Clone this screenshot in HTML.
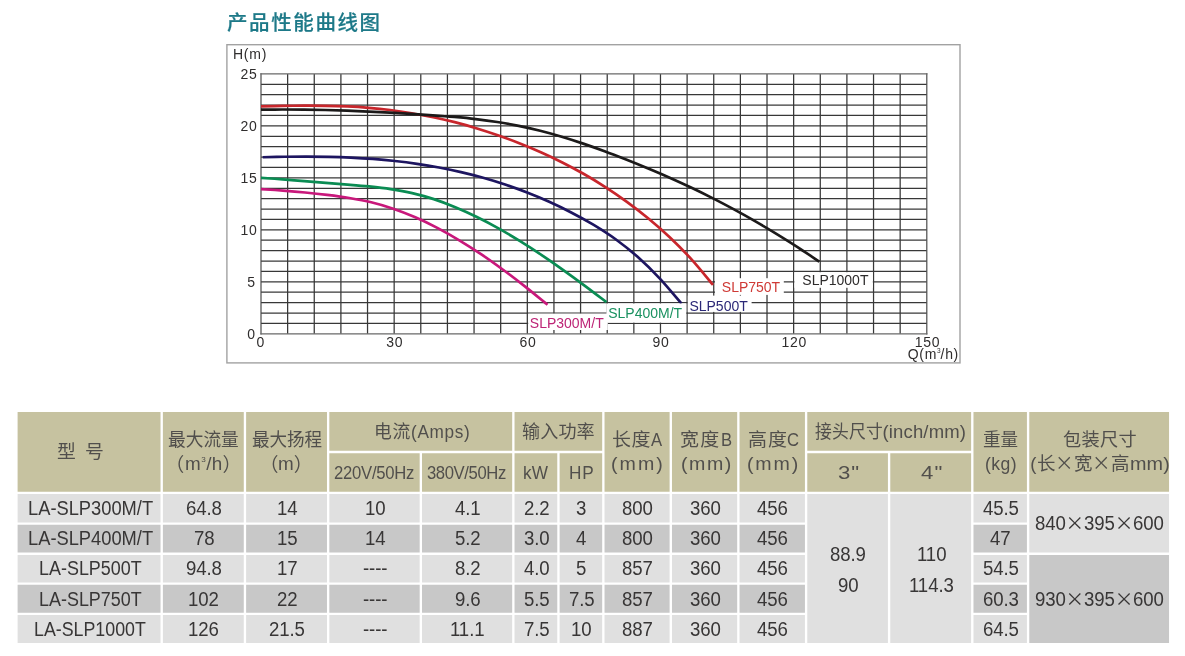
<!DOCTYPE html>
<html lang="zh-CN">
<head>
<meta charset="utf-8">
<title>产品性能曲线图</title>
<style>
html,body{margin:0;padding:0;background:#fff;}
body{width:1185px;height:656px;position:relative;overflow:hidden;font-family:"Liberation Sans","Noto Sans CJK SC",sans-serif;}
.title{position:absolute;left:227px;top:7.5px;margin:0;font-family:"Liberation Sans","Noto Sans CJK SC",sans-serif;font-weight:500;font-size:20.5px;line-height:30px;letter-spacing:1.6px;color:#1d7988;-webkit-text-stroke:0.2px #1d7988;white-space:nowrap;}
.chart{position:absolute;left:0;top:0;}
.tbl{position:absolute;left:0;top:0;width:1185px;height:656px;}
.bg{position:absolute;left:0;top:0;}
.c{position:absolute;}
.t{position:absolute;display:block;height:30px;line-height:30px;white-space:nowrap;transform-origin:0 50%;}
.h{color:#514f4c;}
.a,.b{color:#383636;}
.z{font-size:18.3px;}
.e{font-size:18.5px;}
.k{font-size:19px;font-family:"Noto Sans CJK SC",sans-serif;}
.d{font-size:19.4px;}
.x{font-size:18.6px;font-family:"Noto Sans CJK SC",sans-serif;}
sup{font-size:8px;line-height:0;vertical-align:8px;}
</style>
</head>
<body>
<h2 class="title">产品性能曲线图</h2>
<svg class="chart" width="1185" height="380" viewBox="0 0 1185 380">
<rect x="226.9" y="44.7" width="733.1" height="318.2" fill="#fff" stroke="#a2a2a2" stroke-width="1.4"/>
<defs><filter id="soft" x="-2%" y="-2%" width="104%" height="104%"><feGaussianBlur stdDeviation="0.5"/></filter></defs>
<g filter="url(#soft)">
<path d="M261.0 84.30H926.8M261.0 94.69H926.8M261.0 105.09H926.8M261.0 115.48H926.8M261.0 125.88H926.8M261.0 136.28H926.8M261.0 146.67H926.8M261.0 157.07H926.8M261.0 167.46H926.8M261.0 177.86H926.8M261.0 188.26H926.8M261.0 198.65H926.8M261.0 209.05H926.8M261.0 219.44H926.8M261.0 229.84H926.8M261.0 240.24H926.8M261.0 250.63H926.8M261.0 261.03H926.8M261.0 271.42H926.8M261.0 281.82H926.8M261.0 292.22H926.8M261.0 302.61H926.8M261.0 313.01H926.8M261.0 323.40H926.8M287.63 73.9V333.8M314.26 73.9V333.8M340.90 73.9V333.8M367.53 73.9V333.8M394.16 73.9V333.8M420.79 73.9V333.8M447.42 73.9V333.8M474.06 73.9V333.8M500.69 73.9V333.8M527.32 73.9V333.8M553.95 73.9V333.8M580.58 73.9V333.8M607.22 73.9V333.8M633.85 73.9V333.8M660.48 73.9V333.8M687.11 73.9V333.8M713.74 73.9V333.8M740.38 73.9V333.8M767.01 73.9V333.8M793.64 73.9V333.8M820.27 73.9V333.8M846.90 73.9V333.8M873.54 73.9V333.8M900.17 73.9V333.8" stroke="#383838" stroke-width="1.25" fill="none"/>
<path d="M261.0 73.3V334.4M926.8 73.3V334.4" stroke="#4c4c4c" stroke-width="1.2" fill="none"/>
<path d="M260.4 73.9H927.4M260.4 333.8H927.4" stroke="#6a6a6a" stroke-width="1.3" fill="none"/>
</g>
<g fill="none" stroke-width="2.7">
<path stroke="#c8262c" d="M261.0 106.41C264.6 106.33 275.3 106.06 282.5 105.94C289.7 105.82 296.8 105.70 304.0 105.68C311.2 105.66 318.4 105.68 325.6 105.81C332.8 105.94 339.9 106.13 347.1 106.46C354.3 106.79 361.4 107.22 368.6 107.81C375.8 108.41 382.9 109.13 390.1 110.03C397.3 110.93 404.5 112.01 411.7 113.21C418.9 114.41 426.0 115.73 433.2 117.22C440.4 118.71 447.5 120.32 454.7 122.15C461.9 123.98 469.0 126.01 476.2 128.20C483.4 130.38 490.6 132.75 497.8 135.26C505.0 137.77 512.1 140.41 519.3 143.24C526.5 146.07 533.6 149.05 540.8 152.25C548.0 155.45 555.1 158.81 562.3 162.43C569.5 166.05 576.7 169.87 583.9 173.97C591.1 178.07 598.2 182.40 605.4 187.04C612.6 191.68 619.7 196.56 626.9 201.80C634.1 207.04 641.2 212.51 648.4 218.45C655.6 224.39 662.8 230.61 670.0 237.43C677.2 244.25 684.3 251.46 691.5 259.37C698.7 267.28 709.4 280.64 713.0 284.90"/>
<path stroke="#1c1a1a" d="M261.0 109.70C264.6 109.66 275.3 109.50 282.5 109.48C289.7 109.46 296.9 109.50 304.0 109.58C311.1 109.66 318.2 109.80 325.4 109.98C332.5 110.16 339.7 110.39 346.9 110.65C354.1 110.91 361.2 111.22 368.4 111.55C375.6 111.88 382.8 112.25 389.9 112.64C397.0 113.03 404.1 113.45 411.3 113.89C418.5 114.33 425.6 114.78 432.8 115.28C440.0 115.78 447.1 116.29 454.3 116.92C461.5 117.55 468.7 118.22 475.8 119.06C482.9 119.90 490.0 120.84 497.2 121.97C504.4 123.10 511.5 124.38 518.7 125.85C525.9 127.32 533.0 128.97 540.2 130.78C547.4 132.59 554.5 134.59 561.7 136.73C568.9 138.87 576.1 141.19 583.2 143.62C590.4 146.05 597.5 148.63 604.6 151.29C611.8 153.95 618.9 156.73 626.1 159.57C633.3 162.41 640.4 165.31 647.6 168.30C654.8 171.29 662.0 174.32 669.1 177.49C676.2 180.66 683.4 183.92 690.5 187.31C697.6 190.70 704.8 194.22 712.0 197.85C719.2 201.48 726.3 205.24 733.5 209.12C740.7 213.00 747.9 217.00 755.0 221.12C762.1 225.24 769.2 229.46 776.4 233.82C783.5 238.18 790.7 242.66 797.9 247.30C805.1 251.95 815.8 259.29 819.4 261.69"/>
<path stroke="#1d1560" d="M262.7 157.27C266.4 157.18 277.3 156.87 284.7 156.75C292.1 156.63 299.4 156.56 306.8 156.57C314.2 156.58 321.5 156.66 328.8 156.83C336.1 157.00 343.5 157.24 350.8 157.60C358.1 157.96 365.5 158.40 372.9 158.97C380.2 159.54 387.5 160.22 394.9 161.03C402.2 161.84 409.6 162.77 417.0 163.85C424.4 164.93 431.7 166.15 439.0 167.53C446.3 168.91 453.6 170.44 461.0 172.15C468.4 173.86 475.8 175.72 483.1 177.79C490.5 179.85 497.8 182.09 505.1 184.54C512.4 186.99 519.8 189.63 527.1 192.50C534.5 195.37 541.9 198.45 549.2 201.77C556.6 205.09 563.9 208.63 571.2 212.44C578.6 216.25 585.9 220.22 593.3 224.65C600.6 229.08 608.0 233.69 615.3 239.01C622.6 244.33 629.9 250.07 637.3 256.58C644.6 263.09 652.0 270.27 659.4 278.09C666.8 285.91 677.7 299.28 681.4 303.52"/>
<path stroke="#0a8c53" d="M261.0 177.79C264.6 178.05 275.4 178.80 282.6 179.37C289.8 179.94 297.0 180.62 304.2 181.21C311.4 181.80 318.6 182.37 325.8 182.93C333.0 183.49 340.2 183.96 347.4 184.55C354.6 185.14 361.8 185.70 369.0 186.46C376.2 187.22 383.4 187.99 390.6 189.10C397.8 190.21 405.0 191.44 412.2 193.11C419.4 194.78 426.6 196.78 433.8 199.12C441.0 201.47 448.1 204.20 455.3 207.18C462.5 210.16 469.7 213.47 476.9 217.00C484.1 220.53 491.3 224.36 498.5 228.38C505.7 232.40 512.9 236.69 520.1 241.14C527.3 245.59 534.5 250.27 541.7 255.09C548.9 259.91 556.1 264.92 563.3 270.04C570.5 275.16 577.7 280.44 584.9 285.80C592.1 291.16 602.9 299.47 606.5 302.20"/>
<path stroke="#c8187b" d="M261.0 189.10C264.7 189.34 275.6 190.00 283.0 190.56C290.4 191.12 297.8 191.74 305.1 192.47C312.5 193.20 319.8 194.00 327.1 194.92C334.5 195.84 341.9 196.77 349.2 198.00C356.5 199.23 363.9 200.51 371.2 202.29C378.5 204.07 385.8 206.18 393.2 208.68C400.6 211.18 407.9 214.07 415.3 217.28C422.7 220.49 430.0 224.06 437.3 227.91C444.6 231.76 452.0 235.94 459.3 240.36C466.6 244.78 474.0 249.51 481.4 254.45C488.8 259.39 496.0 264.61 503.4 270.00C510.8 275.39 518.1 281.03 525.5 286.82C532.9 292.61 543.8 301.74 547.5 304.72"/>
</g>
<g fill="#fff">
<rect x="528.2" y="313.6" width="79.6" height="16.4"/>
<rect x="606.4" y="303.5" width="79.8" height="19.1"/>
<rect x="687.8" y="295.6" width="63.8" height="16.3"/>
<rect x="715.0" y="278.2" width="68.8" height="16.7"/>
<rect x="794.4" y="272.2" width="78.4" height="15.6"/>
</g>
<g font-family="'Liberation Sans', Arial, sans-serif" font-size="14">
<text x="529.8" y="327.5" fill="#bd2476">SLP300M/T</text>
<text x="608.2" y="317.7" fill="#1a9160">SLP400M/T</text>
<text x="689.4" y="310.5" fill="#2b2877">SLP500T</text>
<text x="721.8" y="291.6" fill="#cf3a36">SLP750T</text>
<text x="802.3" y="285.3" fill="#2e2c2c">SLP1000T</text>
</g>
<g font-family="'Liberation Sans', Arial, sans-serif" font-size="14" fill="#2f2d2d">
<text x="233" y="59.3" letter-spacing="0.75">H(m)</text>
<text x="257.5" y="78.8" text-anchor="end" letter-spacing="0.7">25</text>
<text x="257.5" y="130.8" text-anchor="end" letter-spacing="0.7">20</text>
<text x="257.5" y="182.8" text-anchor="end" letter-spacing="0.7">15</text>
<text x="257.5" y="234.7" text-anchor="end" letter-spacing="0.7">10</text>
<text x="255.8" y="286.7" text-anchor="end" letter-spacing="0.7">5</text>
<text x="255.8" y="338.7" text-anchor="end" letter-spacing="0.7">0</text>
<text x="260.8" y="347.3" text-anchor="middle" letter-spacing="0.7">0</text>
<text x="394.8" y="347.3" text-anchor="middle" letter-spacing="0.7">30</text>
<text x="527.9" y="347.3" text-anchor="middle" letter-spacing="0.7">60</text>
<text x="661.1" y="347.3" text-anchor="middle" letter-spacing="0.7">90</text>
<text x="794.2" y="347.3" text-anchor="middle" letter-spacing="0.7">120</text>
<text x="927.4" y="347.3" text-anchor="middle" letter-spacing="0.7">150</text>
<text x="907.8" y="359.3" letter-spacing="0.65">Q(m<tspan font-size="6.5" dy="-6.5" letter-spacing="0">3</tspan><tspan dy="6.5">/h)</tspan></text>
</g>
</svg>
<svg class="bg" width="1185" height="656" viewBox="0 0 1185 656">
<path fill="#c6c2a0" d="M17.60 411.90H160.53V491.72H17.60ZM162.88 411.90H243.78V491.72H162.88ZM246.12 411.90H326.98V491.72H246.12ZM329.32 411.90H512.18V450.82H329.32ZM329.32 453.18H419.68V491.72H329.32ZM422.02 453.18H512.18V491.72H422.02ZM514.53 411.90H602.18V450.82H514.53ZM514.53 453.18H557.27V491.72H514.53ZM559.62 453.18H602.18V491.72H559.62ZM604.53 411.90H669.62V491.72H604.53ZM671.98 411.90H737.18V491.72H671.98ZM739.53 411.90H804.93V491.72H739.53ZM807.28 411.90H971.12V450.82H807.28ZM807.28 453.18H887.93V491.72H807.28ZM890.28 453.18H971.12V491.72H890.28ZM973.48 411.90H1026.92V491.72H973.48ZM1029.28 411.90H1169.05V491.72H1029.28Z"/>
<path fill="#e0e0e0" d="M17.60 494.07H160.53V522.38H17.60ZM162.88 494.07H243.78V522.38H162.88ZM246.12 494.07H326.98V522.38H246.12ZM329.32 494.07H419.68V522.38H329.32ZM422.02 494.07H512.18V522.38H422.02ZM514.53 494.07H557.27V522.38H514.53ZM559.62 494.07H602.18V522.38H559.62ZM604.53 494.07H669.62V522.38H604.53ZM671.98 494.07H737.18V522.38H671.98ZM739.53 494.07H804.93V522.38H739.53ZM973.48 494.07H1026.92V522.38H973.48ZM17.60 554.88H160.53V582.43H17.60ZM162.88 554.88H243.78V582.43H162.88ZM246.12 554.88H326.98V582.43H246.12ZM329.32 554.88H419.68V582.43H329.32ZM422.02 554.88H512.18V582.43H422.02ZM514.53 554.88H557.27V582.43H514.53ZM559.62 554.88H602.18V582.43H559.62ZM604.53 554.88H669.62V582.43H604.53ZM671.98 554.88H737.18V582.43H671.98ZM739.53 554.88H804.93V582.43H739.53ZM973.48 554.88H1026.92V582.43H973.48ZM17.60 615.12H160.53V643.00H17.60ZM162.88 615.12H243.78V643.00H162.88ZM246.12 615.12H326.98V643.00H246.12ZM329.32 615.12H419.68V643.00H329.32ZM422.02 615.12H512.18V643.00H422.02ZM514.53 615.12H557.27V643.00H514.53ZM559.62 615.12H602.18V643.00H559.62ZM604.53 615.12H669.62V643.00H604.53ZM671.98 615.12H737.18V643.00H671.98ZM739.53 615.12H804.93V643.00H739.53ZM973.48 615.12H1026.92V643.00H973.48ZM807.28 494.07H887.93V643.00H807.28ZM890.28 494.07H971.12V643.00H890.28ZM1029.28 494.07H1169.05V552.53H1029.28Z"/>
<path fill="#c8c8c8" d="M17.60 524.72H160.53V552.53H17.60ZM162.88 524.72H243.78V552.53H162.88ZM246.12 524.72H326.98V552.53H246.12ZM329.32 524.72H419.68V552.53H329.32ZM422.02 524.72H512.18V552.53H422.02ZM514.53 524.72H557.27V552.53H514.53ZM559.62 524.72H602.18V552.53H559.62ZM604.53 524.72H669.62V552.53H604.53ZM671.98 524.72H737.18V552.53H671.98ZM739.53 524.72H804.93V552.53H739.53ZM973.48 524.72H1026.92V552.53H973.48ZM17.60 584.77H160.53V612.78H17.60ZM162.88 584.77H243.78V612.78H162.88ZM246.12 584.77H326.98V612.78H246.12ZM329.32 584.77H419.68V612.78H329.32ZM422.02 584.77H512.18V612.78H422.02ZM514.53 584.77H557.27V612.78H514.53ZM559.62 584.77H602.18V612.78H559.62ZM604.53 584.77H669.62V612.78H604.53ZM671.98 584.77H737.18V612.78H671.98ZM739.53 584.77H804.93V612.78H739.53ZM973.48 584.77H1026.92V612.78H973.48ZM1029.28 554.88H1169.05V643.00H1029.28Z"/>
</svg>
<div class="tbl">
<div class="c h" style="left:17.60px;top:411.90px;width:142.93px;height:79.82px"><span class="t z" style="left:38.97px;top:25.16px;letter-spacing:0.91px;transform:scaleX(1.030);">型</span><span class="t z" style="left:67.55px;top:25.16px;letter-spacing:0.91px;transform:scaleX(1.030);">号</span></div>
<div class="c h" style="left:162.88px;top:411.90px;width:80.90px;height:79.82px"><span class="t z" style="left:5.30px;top:13.36px;letter-spacing:0.03px;transform:scaleX(0.966);">最大流量</span><span class="t k" style="left:2.26px;top:37.22px;letter-spacing:0.44px;">（</span><span class="t e" style="left:21.72px;top:36.99px;letter-spacing:0.44px;transform:scaleX(1.020);">m<sup>3</sup>/h</span><span class="t k" style="left:59.52px;top:37.22px;letter-spacing:0.44px;">）</span></div>
<div class="c h" style="left:246.12px;top:411.90px;width:80.86px;height:79.82px"><span class="t z" style="left:5.96px;top:13.36px;letter-spacing:-0.06px;transform:scaleX(0.959);">最大扬程</span><span class="t k" style="left:13.45px;top:37.22px;letter-spacing:-0.21px;">（</span><span class="t e" style="left:32.25px;top:36.99px;letter-spacing:-0.21px;transform:scaleX(1.020);">m</span><span class="t k" style="left:47.75px;top:37.22px;letter-spacing:-0.21px;">）</span></div>
<div class="c h" style="left:329.32px;top:411.90px;width:182.86px;height:38.92px"><span class="t z" style="left:44.42px;top:4.76px;letter-spacing:0.72px;transform:scaleX(0.976);">电流</span><span class="t e" style="left:81.52px;top:4.69px;letter-spacing:0.72px;transform:scaleX(0.930);">(Amps)</span></div>
<div class="c h" style="left:329.32px;top:453.18px;width:90.36px;height:38.54px"><span class="t e" style="left:5.10px;top:4.71px;letter-spacing:-0.27px;transform:scaleX(0.900);">220V/50Hz</span></div>
<div class="c h" style="left:422.02px;top:453.18px;width:90.16px;height:38.54px"><span class="t e" style="left:5.10px;top:4.71px;letter-spacing:-0.43px;transform:scaleX(0.900);">380V/50Hz</span></div>
<div class="c h" style="left:514.53px;top:411.90px;width:87.65px;height:38.92px"><span class="t z" style="left:7.57px;top:4.76px;letter-spacing:0.12px;transform:scaleX(0.989);">输入功率</span></div>
<div class="c h" style="left:514.53px;top:453.18px;width:42.74px;height:38.54px"><span class="t e" style="left:8.84px;top:4.71px;letter-spacing:0.28px;transform:scaleX(0.930);">kW</span></div>
<div class="c h" style="left:559.62px;top:453.18px;width:42.56px;height:38.54px"><span class="t e" style="left:9.52px;top:4.71px;letter-spacing:0.84px;transform:scaleX(0.930);">HP</span></div>
<div class="c h" style="left:604.53px;top:411.90px;width:65.09px;height:79.82px"><span class="t z" style="left:7.67px;top:13.36px;letter-spacing:0.55px;transform:scaleX(1.038);">长度</span><span class="t e" style="left:46.77px;top:13.29px;letter-spacing:0.55px;transform:scaleX(0.900);">A</span><span class="t e" style="left:6.84px;top:36.99px;letter-spacing:1.90px;transform:scaleX(1.060);">(mm)</span></div>
<div class="c h" style="left:671.98px;top:411.90px;width:65.20px;height:79.82px"><span class="t z" style="left:7.97px;top:13.36px;letter-spacing:1.26px;transform:scaleX(1.038);">宽度</span><span class="t e" style="left:48.55px;top:13.29px;letter-spacing:1.26px;transform:scaleX(0.900);">B</span><span class="t e" style="left:8.80px;top:36.99px;letter-spacing:1.45px;transform:scaleX(1.060);">(mm)</span></div>
<div class="c h" style="left:739.53px;top:411.90px;width:65.40px;height:79.82px"><span class="t z" style="left:8.04px;top:13.36px;letter-spacing:0.88px;transform:scaleX(1.038);">高度</span><span class="t e" style="left:47.82px;top:13.29px;letter-spacing:0.88px;transform:scaleX(0.900);">C</span><span class="t e" style="left:7.75px;top:36.99px;letter-spacing:1.73px;transform:scaleX(1.060);">(mm)</span></div>
<div class="c h" style="left:807.28px;top:411.90px;width:163.84px;height:38.92px"><span class="t z" style="left:7.24px;top:4.76px;letter-spacing:0.18px;transform:scaleX(0.919);">接头尺寸</span><span class="t e" style="left:75.12px;top:4.69px;letter-spacing:0.18px;">(inch/mm)</span></div>
<div class="c h" style="left:807.28px;top:453.18px;width:80.65px;height:38.54px"><span class="t e" style="left:31.04px;top:4.71px;letter-spacing:0.72px;transform:scaleX(1.200);">3"</span></div>
<div class="c h" style="left:890.28px;top:453.18px;width:80.84px;height:38.54px"><span class="t e" style="left:30.68px;top:4.71px;letter-spacing:1.00px;transform:scaleX(1.200);">4"</span></div>
<div class="c h" style="left:973.48px;top:411.90px;width:53.44px;height:79.82px"><span class="t z" style="left:9.62px;top:13.36px;letter-spacing:-0.14px;transform:scaleX(0.960);">重量</span><span class="t e" style="left:11.87px;top:36.99px;letter-spacing:0.44px;transform:scaleX(0.950);">(kg)</span></div>
<div class="c h" style="left:1029.28px;top:411.90px;width:139.77px;height:79.82px"><span class="t z" style="left:34.20px;top:13.36px;letter-spacing:0.27px;transform:scaleX(0.996);">包装尺寸</span><span class="t e" style="left:1.03px;top:36.99px;letter-spacing:0.10px;">(</span><span class="t z" style="left:7.30px;top:37.06px;letter-spacing:0.10px;transform:scaleX(1.012);">长</span><span class="t k" style="left:25.91px;top:35.12px;letter-spacing:0.10px;transform:scaleX(0.975);">×</span><span class="t z" style="left:44.54px;top:37.06px;letter-spacing:0.10px;transform:scaleX(1.012);">宽</span><span class="t k" style="left:63.15px;top:35.12px;letter-spacing:0.10px;transform:scaleX(0.975);">×</span><span class="t z" style="left:81.79px;top:37.06px;letter-spacing:0.10px;transform:scaleX(1.012);">高</span><span class="t e" style="left:100.40px;top:36.99px;letter-spacing:0.10px;transform:scaleX(1.070);">mm)</span></div>
<div class="c a" style="left:17.60px;top:494.07px;width:142.93px;height:28.31px"><span class="t d" style="left:10.19px;top:-1.02px;transform:scaleX(0.944);">LA-SLP300M/T</span></div>
<div class="c a" style="left:162.88px;top:494.07px;width:80.90px;height:28.31px"><span class="t d" style="left:23.02px;top:-1.02px;letter-spacing:-0.10px;transform:scaleX(0.960);">64.8</span></div>
<div class="c a" style="left:246.12px;top:494.07px;width:80.86px;height:28.31px"><span class="t d" style="left:30.67px;top:-1.02px;letter-spacing:-0.10px;transform:scaleX(0.960);">14</span></div>
<div class="c a" style="left:329.32px;top:494.07px;width:90.36px;height:28.31px"><span class="t d" style="left:35.42px;top:-1.02px;letter-spacing:-0.10px;transform:scaleX(0.960);">10</span></div>
<div class="c a" style="left:422.02px;top:494.07px;width:90.16px;height:28.31px"><span class="t d" style="left:32.78px;top:-1.02px;letter-spacing:-0.10px;transform:scaleX(0.960);">4.1</span></div>
<div class="c a" style="left:514.53px;top:494.07px;width:42.74px;height:28.31px"><span class="t d" style="left:9.08px;top:-1.02px;letter-spacing:-0.10px;transform:scaleX(0.960);">2.2</span></div>
<div class="c a" style="left:559.62px;top:494.07px;width:42.56px;height:28.31px"><span class="t d" style="left:16.65px;top:-1.02px;letter-spacing:-0.10px;transform:scaleX(0.960);">3</span></div>
<div class="c a" style="left:604.53px;top:494.07px;width:65.09px;height:28.31px"><span class="t d" style="left:17.66px;top:-1.02px;letter-spacing:-0.10px;transform:scaleX(0.960);">800</span></div>
<div class="c a" style="left:671.98px;top:494.07px;width:65.20px;height:28.31px"><span class="t d" style="left:17.71px;top:-1.02px;letter-spacing:-0.10px;transform:scaleX(0.960);">360</span></div>
<div class="c a" style="left:739.53px;top:494.07px;width:65.40px;height:28.31px"><span class="t d" style="left:17.81px;top:-1.02px;letter-spacing:-0.10px;transform:scaleX(0.960);">456</span></div>
<div class="c a" style="left:973.48px;top:494.07px;width:53.44px;height:28.31px"><span class="t d" style="left:9.30px;top:-1.02px;letter-spacing:-0.10px;transform:scaleX(0.960);">45.5</span></div>
<div class="c b" style="left:17.60px;top:524.72px;width:142.93px;height:27.81px"><span class="t d" style="left:10.19px;top:-1.27px;transform:scaleX(0.944);">LA-SLP400M/T</span></div>
<div class="c b" style="left:162.88px;top:524.72px;width:80.90px;height:27.81px"><span class="t d" style="left:30.69px;top:-1.27px;letter-spacing:-0.10px;transform:scaleX(0.960);">78</span></div>
<div class="c b" style="left:246.12px;top:524.72px;width:80.86px;height:27.81px"><span class="t d" style="left:30.67px;top:-1.27px;letter-spacing:-0.10px;transform:scaleX(0.960);">15</span></div>
<div class="c b" style="left:329.32px;top:524.72px;width:90.36px;height:27.81px"><span class="t d" style="left:35.42px;top:-1.27px;letter-spacing:-0.10px;transform:scaleX(0.960);">14</span></div>
<div class="c b" style="left:422.02px;top:524.72px;width:90.16px;height:27.81px"><span class="t d" style="left:32.78px;top:-1.27px;letter-spacing:-0.10px;transform:scaleX(0.960);">5.2</span></div>
<div class="c b" style="left:514.53px;top:524.72px;width:42.74px;height:27.81px"><span class="t d" style="left:9.08px;top:-1.27px;letter-spacing:-0.10px;transform:scaleX(0.960);">3.0</span></div>
<div class="c b" style="left:559.62px;top:524.72px;width:42.56px;height:27.81px"><span class="t d" style="left:16.65px;top:-1.27px;letter-spacing:-0.10px;transform:scaleX(0.960);">4</span></div>
<div class="c b" style="left:604.53px;top:524.72px;width:65.09px;height:27.81px"><span class="t d" style="left:17.66px;top:-1.27px;letter-spacing:-0.10px;transform:scaleX(0.960);">800</span></div>
<div class="c b" style="left:671.98px;top:524.72px;width:65.20px;height:27.81px"><span class="t d" style="left:17.71px;top:-1.27px;letter-spacing:-0.10px;transform:scaleX(0.960);">360</span></div>
<div class="c b" style="left:739.53px;top:524.72px;width:65.40px;height:27.81px"><span class="t d" style="left:17.81px;top:-1.27px;letter-spacing:-0.10px;transform:scaleX(0.960);">456</span></div>
<div class="c b" style="left:973.48px;top:524.72px;width:53.44px;height:27.81px"><span class="t d" style="left:16.96px;top:-1.27px;letter-spacing:-0.10px;transform:scaleX(0.960);">47</span></div>
<div class="c a" style="left:17.60px;top:554.88px;width:142.93px;height:27.55px"><span class="t d" style="left:21.41px;top:-1.40px;transform:scaleX(0.925);">LA-SLP500T</span></div>
<div class="c a" style="left:162.88px;top:554.88px;width:80.90px;height:27.55px"><span class="t d" style="left:23.02px;top:-1.40px;letter-spacing:-0.10px;transform:scaleX(0.960);">94.8</span></div>
<div class="c a" style="left:246.12px;top:554.88px;width:80.86px;height:27.55px"><span class="t d" style="left:30.67px;top:-1.40px;letter-spacing:-0.10px;transform:scaleX(0.960);">17</span></div>
<div class="c a" style="left:329.32px;top:554.88px;width:90.36px;height:27.55px"><span class="t d" style="left:33.47px;top:-1.40px;letter-spacing:-0.10px;transform:scaleX(0.960);">----</span></div>
<div class="c a" style="left:422.02px;top:554.88px;width:90.16px;height:27.55px"><span class="t d" style="left:32.78px;top:-1.40px;letter-spacing:-0.10px;transform:scaleX(0.960);">8.2</span></div>
<div class="c a" style="left:514.53px;top:554.88px;width:42.74px;height:27.55px"><span class="t d" style="left:9.08px;top:-1.40px;letter-spacing:-0.10px;transform:scaleX(0.960);">4.0</span></div>
<div class="c a" style="left:559.62px;top:554.88px;width:42.56px;height:27.55px"><span class="t d" style="left:16.65px;top:-1.40px;letter-spacing:-0.10px;transform:scaleX(0.960);">5</span></div>
<div class="c a" style="left:604.53px;top:554.88px;width:65.09px;height:27.55px"><span class="t d" style="left:17.66px;top:-1.40px;letter-spacing:-0.10px;transform:scaleX(0.960);">857</span></div>
<div class="c a" style="left:671.98px;top:554.88px;width:65.20px;height:27.55px"><span class="t d" style="left:17.71px;top:-1.40px;letter-spacing:-0.10px;transform:scaleX(0.960);">360</span></div>
<div class="c a" style="left:739.53px;top:554.88px;width:65.40px;height:27.55px"><span class="t d" style="left:17.81px;top:-1.40px;letter-spacing:-0.10px;transform:scaleX(0.960);">456</span></div>
<div class="c a" style="left:973.48px;top:554.88px;width:53.44px;height:27.55px"><span class="t d" style="left:9.30px;top:-1.40px;letter-spacing:-0.10px;transform:scaleX(0.960);">54.5</span></div>
<div class="c b" style="left:17.60px;top:584.77px;width:142.93px;height:28.01px"><span class="t d" style="left:21.41px;top:-1.17px;transform:scaleX(0.925);">LA-SLP750T</span></div>
<div class="c b" style="left:162.88px;top:584.77px;width:80.90px;height:28.01px"><span class="t d" style="left:25.56px;top:-1.17px;letter-spacing:-0.10px;transform:scaleX(0.960);">102</span></div>
<div class="c b" style="left:246.12px;top:584.77px;width:80.86px;height:28.01px"><span class="t d" style="left:30.67px;top:-1.17px;letter-spacing:-0.10px;transform:scaleX(0.960);">22</span></div>
<div class="c b" style="left:329.32px;top:584.77px;width:90.36px;height:28.01px"><span class="t d" style="left:33.47px;top:-1.17px;letter-spacing:-0.10px;transform:scaleX(0.960);">----</span></div>
<div class="c b" style="left:422.02px;top:584.77px;width:90.16px;height:28.01px"><span class="t d" style="left:32.78px;top:-1.17px;letter-spacing:-0.10px;transform:scaleX(0.960);">9.6</span></div>
<div class="c b" style="left:514.53px;top:584.77px;width:42.74px;height:28.01px"><span class="t d" style="left:9.08px;top:-1.17px;letter-spacing:-0.10px;transform:scaleX(0.960);">5.5</span></div>
<div class="c b" style="left:559.62px;top:584.77px;width:42.56px;height:28.01px"><span class="t d" style="left:8.99px;top:-1.17px;letter-spacing:-0.10px;transform:scaleX(0.960);">7.5</span></div>
<div class="c b" style="left:604.53px;top:584.77px;width:65.09px;height:28.01px"><span class="t d" style="left:17.66px;top:-1.17px;letter-spacing:-0.10px;transform:scaleX(0.960);">857</span></div>
<div class="c b" style="left:671.98px;top:584.77px;width:65.20px;height:28.01px"><span class="t d" style="left:17.71px;top:-1.17px;letter-spacing:-0.10px;transform:scaleX(0.960);">360</span></div>
<div class="c b" style="left:739.53px;top:584.77px;width:65.40px;height:28.01px"><span class="t d" style="left:17.81px;top:-1.17px;letter-spacing:-0.10px;transform:scaleX(0.960);">456</span></div>
<div class="c b" style="left:973.48px;top:584.77px;width:53.44px;height:28.01px"><span class="t d" style="left:9.30px;top:-1.17px;letter-spacing:-0.10px;transform:scaleX(0.960);">60.3</span></div>
<div class="c a" style="left:17.60px;top:615.12px;width:142.93px;height:27.88px"><span class="t d" style="left:16.85px;top:-1.23px;transform:scaleX(0.918);">LA-SLP1000T</span></div>
<div class="c a" style="left:162.88px;top:615.12px;width:80.90px;height:27.88px"><span class="t d" style="left:25.56px;top:-1.23px;letter-spacing:-0.10px;transform:scaleX(0.960);">126</span></div>
<div class="c a" style="left:246.12px;top:615.12px;width:80.86px;height:27.88px"><span class="t d" style="left:23.00px;top:-1.23px;letter-spacing:-0.10px;transform:scaleX(0.960);">21.5</span></div>
<div class="c a" style="left:329.32px;top:615.12px;width:90.36px;height:27.88px"><span class="t d" style="left:33.47px;top:-1.23px;letter-spacing:-0.10px;transform:scaleX(0.960);">----</span></div>
<div class="c a" style="left:422.02px;top:615.12px;width:90.16px;height:27.88px"><span class="t d" style="left:28.34px;top:-1.23px;letter-spacing:-0.10px;transform:scaleX(0.960);">11.1</span></div>
<div class="c a" style="left:514.53px;top:615.12px;width:42.74px;height:27.88px"><span class="t d" style="left:9.08px;top:-1.23px;letter-spacing:-0.10px;transform:scaleX(0.960);">7.5</span></div>
<div class="c a" style="left:559.62px;top:615.12px;width:42.56px;height:27.88px"><span class="t d" style="left:11.52px;top:-1.23px;letter-spacing:-0.10px;transform:scaleX(0.960);">10</span></div>
<div class="c a" style="left:604.53px;top:615.12px;width:65.09px;height:27.88px"><span class="t d" style="left:17.66px;top:-1.23px;letter-spacing:-0.10px;transform:scaleX(0.960);">887</span></div>
<div class="c a" style="left:671.98px;top:615.12px;width:65.20px;height:27.88px"><span class="t d" style="left:17.71px;top:-1.23px;letter-spacing:-0.10px;transform:scaleX(0.960);">360</span></div>
<div class="c a" style="left:739.53px;top:615.12px;width:65.40px;height:27.88px"><span class="t d" style="left:17.81px;top:-1.23px;letter-spacing:-0.10px;transform:scaleX(0.960);">456</span></div>
<div class="c a" style="left:973.48px;top:615.12px;width:53.44px;height:27.88px"><span class="t d" style="left:9.30px;top:-1.23px;letter-spacing:-0.10px;transform:scaleX(0.960);">64.5</span></div>
<div class="c a" style="left:807.28px;top:494.07px;width:80.65px;height:148.93px"><span class="t d" style="left:23.20px;top:44.61px;letter-spacing:-0.10px;transform:scaleX(0.960);">88.9</span><span class="t d" style="left:30.86px;top:75.91px;letter-spacing:-0.10px;transform:scaleX(0.960);">90</span></div>
<div class="c a" style="left:890.28px;top:494.07px;width:80.84px;height:148.93px"><span class="t d" style="left:26.52px;top:44.61px;letter-spacing:-0.10px;transform:scaleX(0.960);">110</span><span class="t d" style="left:18.75px;top:75.91px;letter-spacing:-0.10px;transform:scaleX(0.960);">114.3</span></div>
<div class="c a" style="left:1029.28px;top:494.07px;width:139.77px;height:58.46px"><span class="t d" style="left:5.45px;top:14.41px;letter-spacing:-0.10px;transform:scaleX(0.960);">840</span><span class="t x" style="left:36.23px;top:13.02px;letter-spacing:-0.10px;">×</span><span class="t d" style="left:54.73px;top:14.41px;letter-spacing:-0.10px;transform:scaleX(0.960);">395</span><span class="t x" style="left:85.51px;top:13.02px;letter-spacing:-0.10px;">×</span><span class="t d" style="left:104.01px;top:14.41px;letter-spacing:-0.10px;transform:scaleX(0.960);">600</span></div>
<div class="c b" style="left:1029.28px;top:554.88px;width:139.77px;height:88.12px"><span class="t d" style="left:5.45px;top:29.20px;letter-spacing:-0.10px;transform:scaleX(0.960);">930</span><span class="t x" style="left:36.23px;top:27.81px;letter-spacing:-0.10px;">×</span><span class="t d" style="left:54.73px;top:29.20px;letter-spacing:-0.10px;transform:scaleX(0.960);">395</span><span class="t x" style="left:85.51px;top:27.81px;letter-spacing:-0.10px;">×</span><span class="t d" style="left:104.01px;top:29.20px;letter-spacing:-0.10px;transform:scaleX(0.960);">600</span></div>
</div>
</body>
</html>
